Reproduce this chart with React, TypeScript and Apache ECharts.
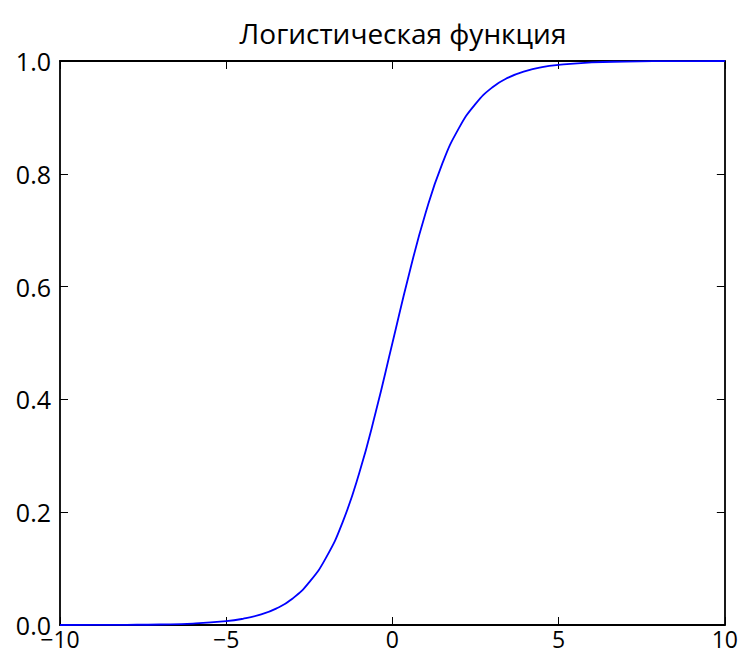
import React, { useEffect, useRef } from "react";
import * as echarts from "echarts";

const titleText = "Логистическая функция";
const xValues = [
  -10, -9, -8, -7, -6, -5, -4.5, -4, -3.5, -3, -2.5, -2, -1.5, -1, -0.5, 0,
  0.5, 1, 1.5, 2, 2.5, 3, 3.5, 4, 4.5, 5, 6, 7, 8, 9, 10,
];
const yValues = [
  0.0, 0.0001, 0.0003, 0.0009, 0.0025, 0.0067, 0.011, 0.018, 0.029, 0.047,
  0.076, 0.119, 0.182, 0.269, 0.378, 0.5, 0.622, 0.731, 0.818, 0.881, 0.924,
  0.953, 0.971, 0.982, 0.989, 0.993, 0.9975, 0.999, 0.9997, 0.9999, 1.0,
];
const xTicks = [-10, -5, 0, 5, 10];
const yTicks = [0, 0.2, 0.4, 0.6, 0.8, 1.0];

const FONT = "'Open Sans', 'Noto Sans', sans-serif";

export default function App() {
  const ref = useRef<HTMLDivElement>(null);
  useEffect(() => {
    document.body.style.margin = "0";
    if (!ref.current) return;
    const chart = echarts.init(ref.current, undefined, { renderer: "svg" });
    const fmtX = (v: number) => (v < 0 ? "\u2212" + Math.abs(v) : String(v));
    const fmtY = (v: number) => v.toFixed(1);
    const axisLine = { show: true, onZero: false, lineStyle: { color: "#000", width: 1.8 } };
    const axisTick = { show: true, inside: true, length: 8, lineStyle: { color: "#000", width: 1 } };
    const labelBase = { color: "#000", fontFamily: FONT };
    chart.setOption({
      animation: false,
      backgroundColor: "#fff",
      grid: { left: 60, right: 14, top: 61, bottom: 28, containLabel: false },
      graphic: [
        {
          type: "text",
          x: 403,
          y: 33,
          style: {
            text: titleText,
            fill: "#000",
            fontSize: 28,
            fontFamily: FONT,
            textAlign: "center",
            textVerticalAlign: "middle",
          },
        },
      ],
      xAxis: [
        {
          type: "value",
          min: xTicks[0],
          max: xTicks[xTicks.length - 1],
          interval: 5,
          position: "bottom",
          axisLine,
          axisTick,
          splitLine: { show: false },
          axisLabel: { ...labelBase, fontSize: 23, margin: 2, formatter: fmtX },
        },
        {
          type: "value",
          min: xTicks[0],
          max: xTicks[xTicks.length - 1],
          interval: 5,
          position: "top",
          axisLine,
          axisTick,
          splitLine: { show: false },
          axisLabel: { show: false },
        },
      ],
      yAxis: [
        {
          type: "value",
          min: yTicks[0],
          max: yTicks[yTicks.length - 1],
          interval: 0.2,
          position: "left",
          axisLine,
          axisTick,
          splitLine: { show: false },
          axisLabel: { ...labelBase, fontSize: 25, margin: 9, formatter: fmtY },
        },
        {
          type: "value",
          min: yTicks[0],
          max: yTicks[yTicks.length - 1],
          interval: 0.2,
          position: "right",
          axisLine,
          axisTick,
          splitLine: { show: false },
          axisLabel: { show: false },
        },
      ],
      series: [
        {
          type: "line",
          data: xValues.map((x, i) => [x, yValues[i]]),
          smooth: true,
          showSymbol: false,
          symbol: "none",
          lineStyle: { color: "#0000ff", width: 1.8 },
          z: 1,
        },
      ],
    });
    return () => chart.dispose();
  }, []);
  return (
    <div
      ref={ref}
      style={{ position: "fixed", left: 0, top: 0, width: 741, height: 653 }}
    />
  );
}
